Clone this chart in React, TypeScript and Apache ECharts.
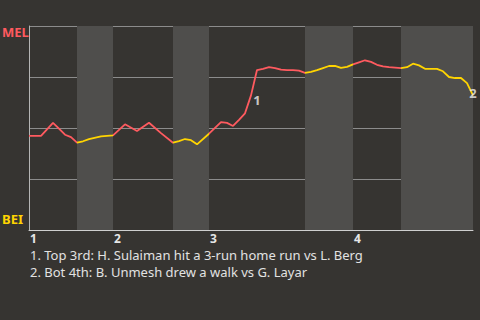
import React, { useEffect, useRef } from "react";
import * as echarts from "echarts";

// win probability for MEL (0 = BEI, 100 = MEL) by event index
const eventIdx = [0, 2, 4, 5, 6, 7, 8, 9, 10, 12, 14, 16, 18, 20, 22, 24, 25, 26, 27, 28, 30, 32, 33, 34, 35, 36, 37, 38, 39, 40, 41, 42, 43, 44, 45, 46, 47, 48, 49, 50, 51, 52, 53, 54, 55, 56, 57, 58, 59, 60, 61, 62, 63, 64, 65, 66, 67, 68, 69, 70, 71, 72, 73, 74];
const winProb = [46.1, 46.1, 52.5, 49.7, 46.7, 45.5, 42.8, 43.5, 44.5, 45.9, 46.4, 51.8, 48.5, 52.6, 47.5, 42.8, 43.6, 44.6, 44.0, 42.0, 47.2, 52.9, 52.5, 51.0, 54.0, 57.2, 66.0, 78.4, 79.0, 79.8, 79.4, 78.6, 78.4, 78.4, 78.1, 77.0, 77.5, 78.4, 79.4, 80.4, 80.5, 79.5, 80.0, 81.2, 82.2, 83.2, 82.4, 81.0, 80.2, 79.8, 79.6, 79.4, 79.8, 81.5, 80.7, 79.0, 79.0, 79.0, 77.8, 75.0, 74.5, 74.5, 72.0, 66.0];

// half-innings: [start, end] in event index, top = MEL batting (red), bottom = BEI batting (yellow)
const halfStarts = [0, 8, 14, 24, 30, 46, 54, 62];
const halfEnds = [8, 14, 24, 30, 46, 54, 62, 74];
const inningLabels = ["1", "2", "3", "4"];
const inningStarts = [0, 14, 30, 54];

const annotIdx = [38, 74];
const annotValue = [63.5, 67.2];
const annotText = ["1", "2"];
const notes = [
  "1. Top 3rd: H. Sulaiman hit a 3-run home run vs L. Berg",
  "2. Bot 4th: B. Unmesh drew a walk vs G. Layar",
];

const RED = "#ff5a5f";
const YELLOW = "#ffd400";
const BG = "#363431";
const BAND = "#4f4e4c";
const FONT = "'Noto Sans', sans-serif";

export default function App() {
  const ref = useRef<HTMLDivElement>(null);
  useEffect(() => {
    if (!ref.current) return;
    const chart = echarts.init(ref.current, undefined, { renderer: "svg" });
    const data = eventIdx.map((x, i) => [x, winProb[i]]);
    const pieces = halfStarts.map((s, i) => ({
      gte: s,
      lt: i === halfStarts.length - 1 ? halfEnds[i] + 1 : halfEnds[i],
      color: i % 2 === 0 ? RED : YELLOW,
    }));
    const bands = halfStarts
      .map((s, i) => (i % 2 === 1 ? [{ xAxis: s }, { xAxis: halfEnds[i] }] : null))
      .filter(Boolean);
    chart.setOption({
      animation: false,
      backgroundColor: BG,
      grid: { left: 29, right: 7, top: 26, bottom: 90 },
      xAxis: {
        type: "value",
        min: 0,
        max: 74,
        axisLine: { show: true, lineStyle: { color: "#cfcfcf", width: 1 } },
        axisTick: { show: false },
        splitLine: { show: false },
        axisLabel: {
          customValues: inningStarts,
          formatter: (v: number) => inningLabels[inningStarts.indexOf(v)] ?? "",
          color: "#e6e6e6",
          fontFamily: FONT,
          fontWeight: "bold",
          fontSize: 12,
          lineHeight: 12,
          align: "left",
          margin: 2,
          padding: [0, 0, 0, 1],
        },
      },
      yAxis: {
        type: "value",
        min: 0,
        max: 100,
        interval: 25,
        axisLine: { show: true, lineStyle: { color: "#b5b5b5" } },
        axisTick: { show: false },
        axisLabel: { show: false },
        splitLine: { show: true, lineStyle: { color: "#8c8c8c", width: 1 } },
      },
      visualMap: {
        show: false,
        type: "piecewise",
        dimension: 0,
        seriesIndex: 0,
        pieces,
      },
      series: [
        {
          type: "line",
          data,
          showSymbol: false,
          lineStyle: { width: 1.8 },
          z: 3,
          markArea: {
            silent: true,
            itemStyle: { color: BAND },
            data: bands,
          },
        },
        {
          type: "scatter",
          data: annotIdx.map((x, i) => [x, annotValue[i], annotText[i]]),
          symbolSize: 0,
          z: 4,
          label: {
            show: true,
            position: "inside",
            formatter: (p: any) => p.data[2],
            color: "#eeeeee",
            fontFamily: FONT,
            fontWeight: "bold",
            fontSize: 13,
          },
        },
      ],
      graphic: [
        {
          type: "text",
          left: 2,
          top: 25,
          style: { text: "MEL", fill: RED, font: `bold 13px ${FONT}` },
        },
        {
          type: "text",
          left: 2,
          top: 212,
          style: { text: "BEI", fill: YELLOW, font: `bold 13px ${FONT}` },
        },
        ...notes.map((t, i) => ({
          type: "text",
          left: 30,
          top: 247 + i * 17,
          style: { text: t, fill: "#e2e2e2", font: `13px ${FONT}`, lineHeight: 15 },
        })),
      ],
    });
    return () => chart.dispose();
  }, []);
  return (
    <div style={{ position: "fixed", left: 0, top: 0, width: 480, height: 320, background: BG }}>
      <div ref={ref} style={{ width: 480, height: 320 }} />
    </div>
  );
}
